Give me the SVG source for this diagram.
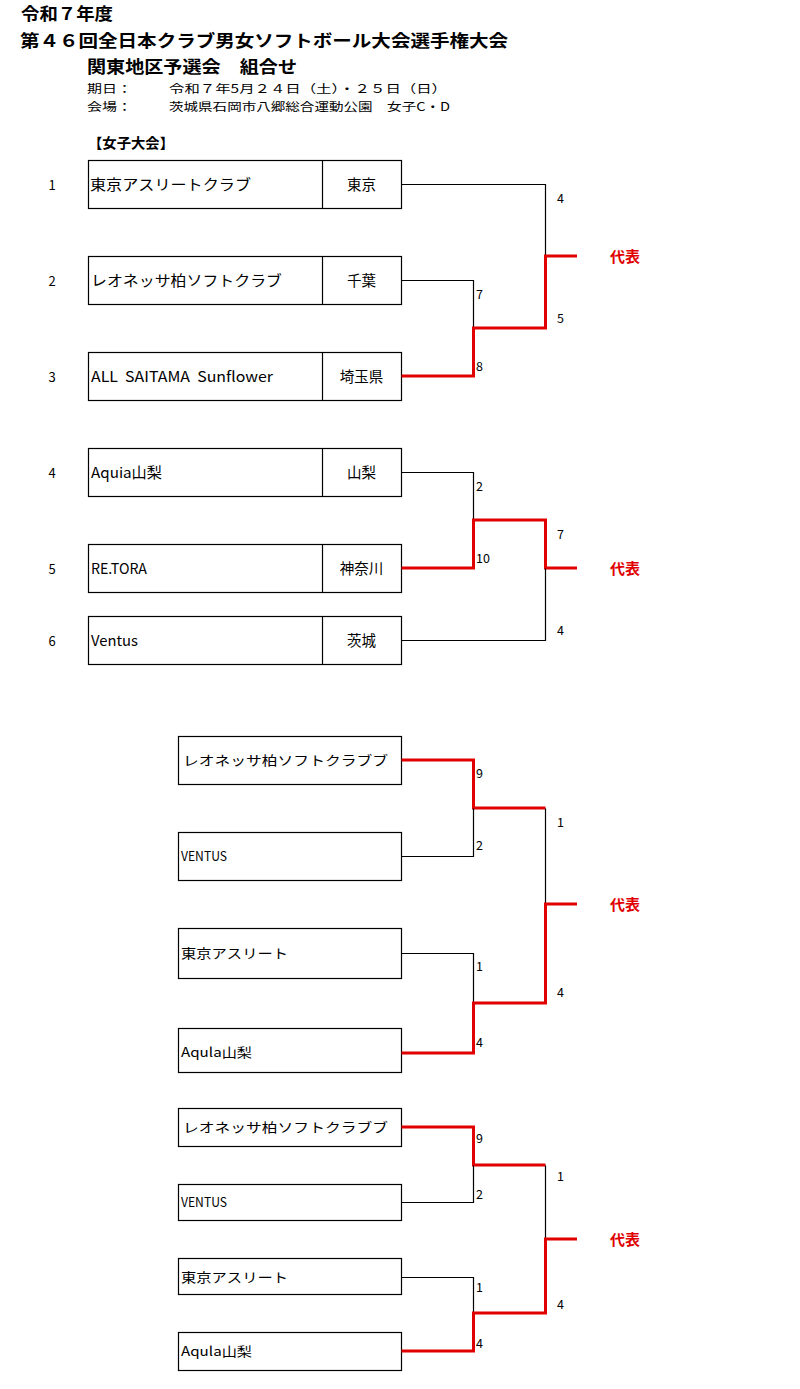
<svg xmlns="http://www.w3.org/2000/svg" width="800" height="1389" viewBox="0 0 800 1389">
<style>
text{font-family:"Noto Sans CJK JP","Liberation Sans",sans-serif;fill:#000}
.t{font-size:17px;font-weight:bold}
.s{font-size:11.5px}
.h{font-size:14px;font-weight:bold}
.n{font-size:13px}
.b{font-size:14.5px}
.c{font-size:14.5px;text-anchor:middle}
.b2{font-size:13px}
.lb{font-size:12.5px}
.rep{font-size:15px;font-weight:bold;fill:#e00000}
.box{fill:#fff;stroke:#000;stroke-width:1.2}
.bk{fill:none;stroke:#000;stroke-width:1.2}
.rd{fill:none;stroke:#e00000;stroke-width:3}
</style>
<rect width="800" height="1389" fill="#fff"/>
<g id="header">
<text class="t" x="21" y="20" textLength="92" lengthAdjust="spacingAndGlyphs">令和７年度</text>
<text class="t" x="20" y="47" textLength="488" lengthAdjust="spacingAndGlyphs">第４６回全日本クラブ男女ソフトボール大会選手権大会</text>
<text class="t" x="87" y="73" textLength="210" lengthAdjust="spacingAndGlyphs">関東地区予選会　組合せ</text>
<text class="s" x="87" y="93" textLength="45" lengthAdjust="spacingAndGlyphs">期日：</text>
<text class="s" x="169" y="93" textLength="278" lengthAdjust="spacingAndGlyphs">令和７年5月２４日（土）・２５日（日）</text>
<text class="s" x="87" y="111" textLength="45" lengthAdjust="spacingAndGlyphs">会場：</text>
<text class="s" x="169" y="111" textLength="281" lengthAdjust="spacingAndGlyphs">茨城県石岡市八郷総合運動公園　女子C・D</text>
<text class="h" x="88" y="148" textLength="86" lengthAdjust="spacingAndGlyphs">【女子大会】</text>
</g>
<g id="node-t1">
<text class="n" x="52" y="190" text-anchor="middle">1</text>
<rect class="box" x="88.5" y="160.5" width="313" height="48"/>
<line class="bk" x1="322.5" y1="160.5" x2="322.5" y2="208.5"/>
<text class="b" x="90" y="190" textLength="161" lengthAdjust="spacingAndGlyphs">東京アスリートクラブ</text>
<text class="c" x="361.5" y="190">東京</text>
</g>
<g id="node-t2">
<text class="n" x="52" y="286" text-anchor="middle">2</text>
<rect class="box" x="88.5" y="256.5" width="313" height="48"/>
<line class="bk" x1="322.5" y1="256.5" x2="322.5" y2="304.5"/>
<text class="b" x="91" y="286" textLength="191" lengthAdjust="spacingAndGlyphs">レオネッサ柏ソフトクラブ</text>
<text class="c" x="361.5" y="286">千葉</text>
</g>
<g id="node-t3">
<text class="n" x="52" y="382" text-anchor="middle">3</text>
<rect class="box" x="88.5" y="352.5" width="313" height="48"/>
<line class="bk" x1="322.5" y1="352.5" x2="322.5" y2="400.5"/>
<text class="b" x="91" y="382" textLength="182" lengthAdjust="spacingAndGlyphs" xml:space="preserve">ALL  SAITAMA  Sunflower</text>
<text class="c" x="361.5" y="382">埼玉県</text>
</g>
<g id="node-t4">
<text class="n" x="52" y="478" text-anchor="middle">4</text>
<rect class="box" x="88.5" y="448.5" width="313" height="48"/>
<line class="bk" x1="322.5" y1="448.5" x2="322.5" y2="496.5"/>
<text class="b" x="91" y="478" textLength="71" lengthAdjust="spacingAndGlyphs">Aquia山梨</text>
<text class="c" x="361.5" y="478">山梨</text>
</g>
<g id="node-t5">
<text class="n" x="52" y="574" text-anchor="middle">5</text>
<rect class="box" x="88.5" y="544.5" width="313" height="48"/>
<line class="bk" x1="322.5" y1="544.5" x2="322.5" y2="592.5"/>
<text class="b" x="91" y="574" textLength="56" lengthAdjust="spacingAndGlyphs">RE.TORA</text>
<text class="c" x="361.5" y="574">神奈川</text>
</g>
<g id="node-t6">
<text class="n" x="52" y="646" text-anchor="middle">6</text>
<rect class="box" x="88.5" y="616.5" width="313" height="48"/>
<line class="bk" x1="322.5" y1="616.5" x2="322.5" y2="664.5"/>
<text class="b" x="91" y="646" textLength="47" lengthAdjust="spacingAndGlyphs">Ventus</text>
<text class="c" x="361.5" y="646">茨城</text>
</g>
<g id="node-s1a">
<rect class="box" x="178.5" y="736.5" width="223" height="48"/>
<text class="b2" x="183" y="765" textLength="205" lengthAdjust="spacingAndGlyphs">レオネッサ柏ソフトクラブブ</text>
</g>
<g id="node-s1b">
<rect class="box" x="178.5" y="832.5" width="223" height="48"/>
<text class="b2" x="181" y="861" textLength="46" lengthAdjust="spacingAndGlyphs">VENTUS</text>
</g>
<g id="node-s1c">
<rect class="box" x="178.5" y="928.5" width="223" height="50"/>
<text class="b2" x="181" y="958" textLength="107" lengthAdjust="spacingAndGlyphs">東京アスリート</text>
</g>
<g id="node-s1d">
<rect class="box" x="178.5" y="1028.5" width="223" height="44"/>
<text class="b2" x="181" y="1057" textLength="71" lengthAdjust="spacingAndGlyphs">Aqula山梨</text>
</g>
<g id="node-s2a">
<rect class="box" x="178.5" y="1108.5" width="223" height="38"/>
<text class="b2" x="183" y="1132" textLength="205" lengthAdjust="spacingAndGlyphs">レオネッサ柏ソフトクラブブ</text>
</g>
<g id="node-s2b">
<rect class="box" x="178.5" y="1184.5" width="223" height="36"/>
<text class="b2" x="181" y="1207" textLength="46" lengthAdjust="spacingAndGlyphs">VENTUS</text>
</g>
<g id="node-s2c">
<rect class="box" x="178.5" y="1258.5" width="223" height="36"/>
<text class="b2" x="181" y="1282" textLength="107" lengthAdjust="spacingAndGlyphs">東京アスリート</text>
</g>
<g id="node-s2d">
<rect class="box" x="178.5" y="1332.5" width="223" height="38"/>
<text class="b2" x="181" y="1356" textLength="71" lengthAdjust="spacingAndGlyphs">Aqula山梨</text>
</g>
<g id="connectors">
<polyline class="bk" points="401.5,184.5 545.5,184.5 545.5,256.5"/>
<polyline class="bk" points="401.5,280.5 473.5,280.5 473.5,328.5"/>
<polyline class="rd" points="401.5,376 473.5,376 473.5,328 545.5,328 545.5,256 577,256"/>
<polyline class="bk" points="401.5,472.5 473.5,472.5 473.5,520.5"/>
<polyline class="rd" points="401.5,568 473.5,568 473.5,520 545.5,520 545.5,568 577,568"/>
<polyline class="bk" points="401.5,640.5 545.5,640.5 545.5,568.5"/>
<polyline class="rd" points="401.5,760 473.5,760 473.5,808 545.5,808"/>
<polyline class="bk" points="401.5,856.5 473.5,856.5 473.5,808.5"/>
<polyline class="bk" points="545.5,808.5 545.5,903.5"/>
<polyline class="bk" points="401.5,953.5 473.5,953.5 473.5,1003.5"/>
<polyline class="rd" points="401.5,1053 473.5,1053 473.5,1003 545.5,1003 545.5,904 577,904"/>
<polyline class="rd" points="401.5,1127 473.5,1127 473.5,1165 545.5,1165"/>
<polyline class="bk" points="401.5,1202.5 473.5,1202.5 473.5,1165.5"/>
<polyline class="bk" points="545.5,1165.5 545.5,1239.5"/>
<polyline class="bk" points="401.5,1277.5 473.5,1277.5 473.5,1313.5"/>
<polyline class="rd" points="401.5,1351 473.5,1351 473.5,1313 545.5,1313 545.5,1239 577,1239"/>
</g>
<g id="labels">
<text class="lb" x="557" y="203">4</text>
<text class="lb" x="476" y="299">7</text>
<text class="lb" x="557" y="323">5</text>
<text class="lb" x="476" y="371">8</text>
<text class="rep" x="610" y="262">代表</text>
<text class="lb" x="476" y="491">2</text>
<text class="lb" x="557" y="539">7</text>
<text class="lb" x="476" y="563">10</text>
<text class="lb" x="557" y="635">4</text>
<text class="rep" x="610" y="574">代表</text>
<text class="lb" x="476" y="778">9</text>
<text class="lb" x="476" y="850">2</text>
<text class="lb" x="557" y="827">1</text>
<text class="lb" x="557" y="997">4</text>
<text class="lb" x="476" y="971">1</text>
<text class="lb" x="476" y="1047">4</text>
<text class="rep" x="610" y="910">代表</text>
<text class="lb" x="476" y="1143">9</text>
<text class="lb" x="476" y="1199">2</text>
<text class="lb" x="557" y="1181">1</text>
<text class="lb" x="557" y="1309">4</text>
<text class="lb" x="476" y="1292">1</text>
<text class="lb" x="476" y="1348">4</text>
<text class="rep" x="610" y="1245">代表</text>
</g>
</svg>
